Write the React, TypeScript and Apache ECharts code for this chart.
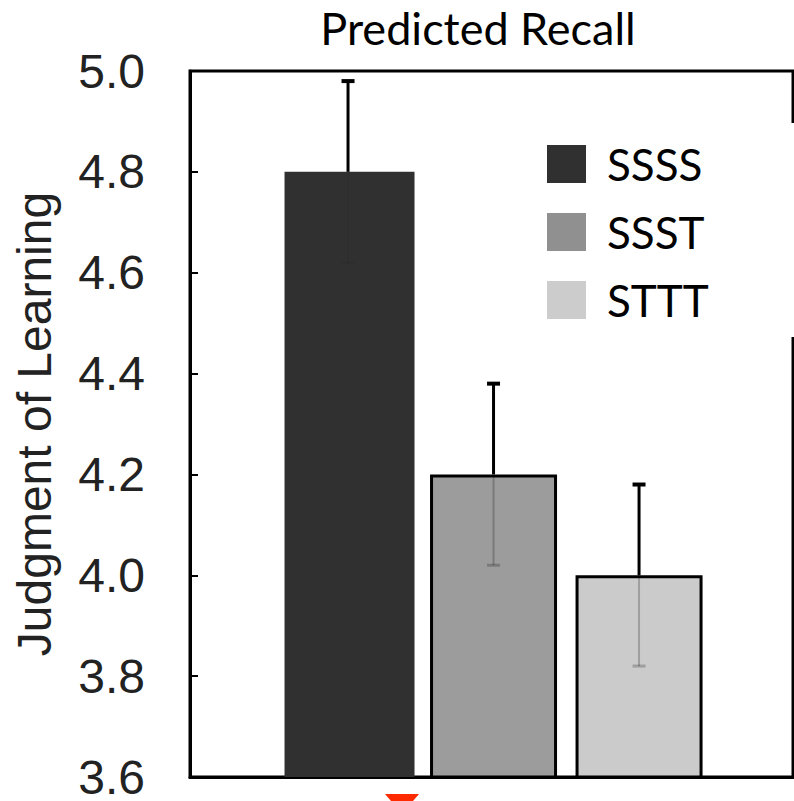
import React, { useEffect, useRef } from "react";
import * as echarts from "echarts";

const categories = ["SSSS", "SSST", "STTT"];
const positions = [1, 2, 3];
const means = [4.8, 4.2, 4.0];
const lowers = [4.62, 4.02, 3.82];
const uppers = [4.98, 4.38, 4.18];
const barColors = ["#303030", "#9c9c9c", "#cbcbcb"];
const legendColors = ["#303030", "#909090", "#cccccc"];
const yMin = 3.6;
const yMax = 5.0;
const yInterval = 0.2;

export default function App() {
  const ref = useRef<HTMLDivElement>(null);
  useEffect(() => {
    if (!ref.current) return;
    const chart = echarts.init(ref.current, null, { renderer: "svg" });
    const barSeries = categories.map((name, i) => ({
      name,
      type: "bar",
      data: [[positions[i], means[i]]],
      barWidth: i === 0 ? 130 : 127,
      barGap: "-100%",
      itemStyle: {
        color: barColors[i],
        borderColor: i === 0 ? barColors[0] : "#000",
        borderWidth: i === 0 ? 0 : 3,
      },
      z: 2,
    }));
    const errData = positions.map((p, i) => [p, means[i], lowers[i], uppers[i]]);
    chart.setOption({
      animation: false,
      title: {
        text: "Predicted Recall",
        left: 473,
        top: 0,
        textAlign: "center",
        textStyle: { fontFamily: "Lato", fontSize: 45, fontWeight: "normal", color: "#000" },
      },
      grid: {
        left: 190,
        right: 1,
        top: 71,
        bottom: 23,
        show: true,
        borderColor: "#000",
        borderWidth: 3,
        containLabel: false,
      },
      legend: {
        orient: "vertical",
        left: 530,
        top: 123,
        padding: [19, 100, 15, 17],
        itemWidth: 39,
        itemHeight: 38,
        itemGap: 24,
        backgroundColor: "#fff",
        z: 10,
        textStyle: {
          fontFamily: "Lato",
          fontSize: 44,
          lineHeight: 38,
          color: "#000",
          padding: [0, 0, 0, 16],
        },
        data: categories.map((name, i) => ({
          name,
          icon: "rect",
          itemStyle: { color: legendColors[i], borderWidth: 0 },
        })),
      },
      xAxis: {
        type: "value",
        min: -0.086,
        max: 4.058,
        axisLine: { show: true, onZero: false, lineStyle: { color: "#000", width: 3 } },
        axisTick: { show: false },
        axisLabel: { show: false },
        splitLine: { show: false },
      },
      yAxis: {
        type: "value",
        min: yMin,
        max: yMax,
        interval: yInterval,
        name: "Judgment of Learning",
        nameLocation: "middle",
        nameGap: 132,
        nameTextStyle: { fontFamily: "Liberation Sans", fontSize: 48, color: "#222" },
        axisLine: { show: true, onZero: false, lineStyle: { color: "#000", width: 3 } },
        axisTick: { show: true, inside: true, length: 8, lineStyle: { color: "#000", width: 2 } },
        axisLabel: {
          margin: 45,
          fontFamily: "Liberation Sans",
          fontSize: 48,
          color: "#222",
          formatter: (v: number) => v.toFixed(1),
        },
        splitLine: { show: false },
      },
      series: [
        ...barSeries,
        {
          type: "custom",
          data: errData,
          encode: { x: 0, y: [1, 2, 3] },
          z: 5,
          renderItem: (params: any, api: any) => {
            const x = api.value(0);
            const m = api.value(1);
            const lo = api.value(2);
            const hi = api.value(3);
            const pHi = api.coord([x, hi]);
            const pM = api.coord([x, m]);
            const pLo = api.coord([x, lo]);
            const cap = 13;
            const lowColor = params.dataIndex === 0 ? "rgba(0,0,0,0.04)" : "rgba(0,0,0,0.22)";
            return {
              type: "group",
              children: [
                {
                  type: "line",
                  shape: { x1: pM[0], y1: pM[1], x2: pHi[0], y2: pHi[1] },
                  style: { stroke: "#000", lineWidth: 3 },
                },
                {
                  type: "line",
                  shape: { x1: pHi[0] - cap / 2, y1: pHi[1], x2: pHi[0] + cap / 2, y2: pHi[1] },
                  style: { stroke: "#000", lineWidth: 4 },
                },
                {
                  type: "line",
                  shape: { x1: pM[0], y1: pM[1], x2: pLo[0], y2: pLo[1] },
                  style: { stroke: lowColor, lineWidth: 2 },
                },
                {
                  type: "line",
                  shape: { x1: pLo[0] - cap / 2, y1: pLo[1], x2: pLo[0] + cap / 2, y2: pLo[1] },
                  style: { stroke: lowColor, lineWidth: 3 },
                },
              ],
            };
          },
        },
      ],
      graphic: [
        {
          type: "polygon",
          shape: { points: [[385, 794], [419, 794], [413, 801], [391, 801]] },
          style: { fill: "#ff2a00" },
        },
      ],
    });
    return () => chart.dispose();
  }, []);
  return (
    <div
      ref={ref}
      style={{ position: "fixed", left: 0, top: 0, width: 794, height: 801, background: "#fff" }}
    />
  );
}
